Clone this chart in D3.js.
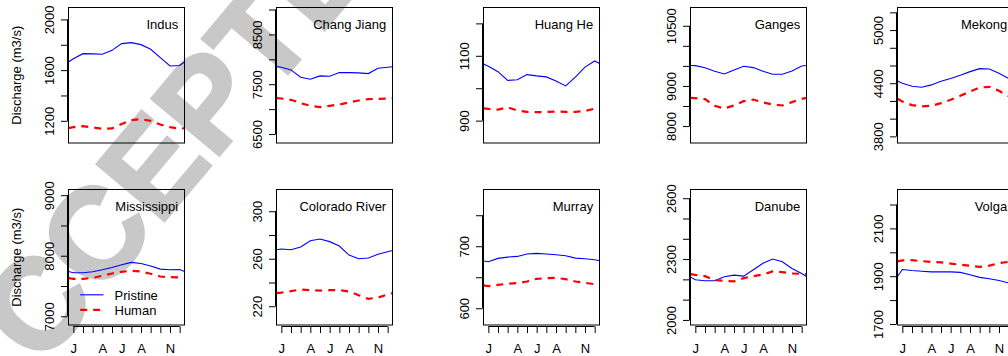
<!DOCTYPE html>
<html>
<head>
<meta charset="utf-8">
<script src="https://cdn.jsdelivr.net/npm/d3@7"></script>
<style>
  html, body { margin: 0; padding: 0; background: #fff; }
  svg { display: block; font-family: "Liberation Sans", Arial, sans-serif; }
</style>
</head>
<body>
<svg id="chart" width="1008" height="356"></svg>
<script>
// --- Data --------------------------------------------------------------
// monthly climatology, padded at both ends (x = 0.5 and 12.5) as in the figure
const monthX = [0.5, 1, 2, 3, 4, 5, 6, 7, 8, 9, 10, 11, 12, 12.5];
const monthTicks = [1, 2, 3, 4, 5, 6, 7, 8, 9, 10, 11, 12];
const monthLabels = ['J', '', '', 'A', '', 'J', '', 'A', '', '', 'N', ''];

const rivers = ['Indus', 'Chang Jiang', 'Huang He', 'Ganges', 'Mekong',
  'Mississippi', 'Colorado River', 'Murray', 'Danube', 'Volga'];

const pristine = [
  [1664, 1690, 1730, 1728, 1725, 1756, 1809, 1817, 1801, 1764, 1699, 1633, 1636, 1664],
  [7853, 7840, 7787, 7640, 7600, 7667, 7660, 7733, 7733, 7727, 7713, 7820, 7840, 7850],
  [1075, 1068, 1051, 1024, 1026, 1042, 1038, 1035, 1022, 1007, 1034, 1065, 1084, 1076],
  [9510, 9507, 9452, 9366, 9300, 9399, 9490, 9457, 9366, 9291, 9291, 9374, 9498, 9510],
  [4426, 4400, 4366, 4355, 4381, 4423, 4453, 4490, 4531, 4565, 4561, 4513, 4452, 4426],
  [7740, 7718, 7718, 7735, 7768, 7807, 7851, 7890, 7873, 7829, 7779, 7768, 7773, 7740],
  [267.6, 268.2, 267.6, 269.9, 275.2, 276.6, 274.4, 270.7, 263.1, 260.0, 260.6, 263.7, 265.9, 267.0],
  [676.1, 675.0, 680.4, 682.5, 683.6, 687.4, 688.5, 687.4, 686.3, 684.7, 680.9, 679.8, 678.2, 676.6],
  [2211, 2198, 2193, 2193, 2213, 2221, 2216, 2247, 2279, 2300, 2287, 2254, 2229, 2214],
  [1899, 1928, 1924, 1921, 1918, 1918, 1918, 1916, 1906, 1895, 1889, 1882, 1872, 1900],
];

const human = [
  [1142, 1150, 1158, 1148, 1137, 1140, 1174, 1206, 1213, 1200, 1171, 1150, 1137, 1142],
  [7220, 7213, 7187, 7120, 7067, 7040, 7067, 7093, 7133, 7173, 7200, 7207, 7213, 7220],
  [938, 936, 934, 941, 931, 927, 926, 927, 928, 927, 927, 930, 937, 938],
  [8704, 8695, 8671, 8505, 8439, 8513, 8621, 8662, 8588, 8538, 8513, 8596, 8679, 8704],
  [4224, 4194, 4153, 4138, 4145, 4175, 4213, 4258, 4306, 4351, 4359, 4314, 4254, 4224],
  [7630, 7619, 7619, 7635, 7669, 7707, 7735, 7751, 7740, 7702, 7657, 7646, 7641, 7630],
  [231.0, 231.5, 232.7, 234.1, 233.5, 233.2, 233.5, 233.5, 232.4, 229.3, 226.2, 227.3, 229.9, 231.0],
  [637.0, 635.6, 637.8, 639.4, 640.5, 643.2, 647.5, 648.5, 649.1, 646.9, 643.2, 641.0, 638.8, 637.0],
  [2226, 2222, 2216, 2196, 2193, 2190, 2206, 2216, 2224, 2239, 2236, 2229, 2227, 2226],
  [1962, 1966, 1967, 1963, 1960, 1958, 1953, 1948, 1944, 1939, 1944, 1955, 1960, 1962],
];

// y-axis limits of each panel
const yLimits = [
  [1025, 2094], [6320, 9040], [831, 1249], [7578, 10955], [3725, 5255],
  [6856, 9094], [204.2, 318.3], [573, 791.5], [1975, 2643], [1695.8, 2262.8],
];

const yTicks = [
  [1200, 1400, 1600, 1800, 2000],
  [6500, 7000, 7500, 8000, 8500, 9000],
  [900, 1000, 1100, 1200],
  [8000, 8500, 9000, 9500, 10000, 10500],
  [3800, 4000, 4200, 4400, 4600, 4800, 5000, 5200],
  [7000, 7500, 8000, 8500, 9000],
  [220, 240, 260, 280, 300],
  [600, 650, 700, 750],
  [2000, 2100, 2200, 2300, 2400, 2500, 2600],
  [1700, 1800, 1900, 2000, 2100, 2200],
];

// only some ticks carry a label (R drops the overlapping ones)
const yTickLabels = [
  [1200, 1600, 2000],
  [6500, 7500, 8500],
  [900, 1100],
  [8000, 9000, 10500],
  [3800, 4400, 5000],
  [7000, 8000, 9000],
  [220, 260, 300],
  [600, 700],
  [2000, 2300, 2600],
  [1700, 1900, 2100],
];

const legendItems = ['Pristine', 'Human'];

// --- Layout ------------------------------------------------------------
const svg = d3.select('#chart');
const boxW = 116, boxH = 135.5;
const colLeft = i => 68.3 + i * 207.25;
const rowTop = [7.3, 188.7];
const BLUE = '#0000ff', RED = '#ff0000';

// watermark, behind everything
svg.append('text')
  .attr('transform', 'translate(207,170) rotate(-50)')
  .attr('text-anchor', 'middle')
  .style('font-size', '128px')
  .style('font-weight', 'bold')
  .attr('fill', '#c8c8c8')
  .attr('stroke', '#c8c8c8')
  .attr('stroke-width', 3)
  .text('ACCEPTED');

rivers.forEach((name, i) => {
  const row = Math.floor(i / 5), col = i % 5;
  const left = Math.round(colLeft(col)) + 0.5;
  const top = Math.round(rowTop[row]) + 0.5;

  const x = d3.scaleLinear().domain([0.5, 12.5]).range([left, left + boxW]);
  const y = d3.scaleLinear().domain(yLimits[i]).range([top + boxH, top]);

  const g = svg.append('g');

  const line = d3.line()
    .x((d, k) => x(monthX[k]))
    .y(d => y(d));

  g.append('path')
    .attr('d', line(pristine[i]))
    .attr('fill', 'none')
    .attr('stroke', BLUE)
    .attr('stroke-width', 1.1);

  g.append('path')
    .attr('d', line(human[i]))
    .attr('fill', 'none')
    .attr('stroke', RED)
    .attr('stroke-width', 2.2)
    .attr('stroke-dasharray', '7,6');

  // box
  g.append('rect')
    .attr('x', left).attr('y', top)
    .attr('width', boxW).attr('height', boxH)
    .attr('fill', 'none')
    .attr('stroke', '#000')
    .attr('stroke-width', 1);

  // y axis
  const yAxis = d3.axisLeft(y)
    .tickValues(yTicks[i])
    .tickSize(6.5)
    .tickPadding(0)
    .tickFormat(d => yTickLabels[i].includes(d) ? d : '');
  const ya = g.append('g')
    .attr('transform', `translate(${left - 1},0)`)
    .call(yAxis);
  ya.select('.domain')
    .attr('d', `M0,${y(yTicks[i][0])}V${y(yTicks[i][yTicks[i].length - 1])}`)
    .attr('stroke', '#000');
  ya.selectAll('.tick line').attr('stroke', '#000');
  ya.selectAll('.tick text')
    .attr('x', null).attr('dy', null)
    .attr('text-anchor', 'middle')
    .attr('fill', '#000')
    .style('font-size', '13px')
    .attr('transform', 'translate(-14,0) rotate(-90)');

  if (col === 0) {
    g.append('text')
      .attr('transform', `translate(20.6,${top + boxH / 2}) rotate(-90)`)
      .attr('text-anchor', 'middle')
      .style('font-size', '13px')
      .attr('fill', '#000')
      .text('Discharge (m3/s)');
  }

  // x axis only on the bottom row
  if (row === 1) {
    const xAxis = d3.axisBottom(x)
      .tickValues(monthTicks)
      .tickSize(6.5)
      .tickPadding(0)
      .tickFormat((d, k) => monthLabels[k]);
    const xa = g.append('g')
      .attr('transform', `translate(0,${top + boxH + 1.5})`)
      .call(xAxis);
    xa.select('.domain')
      .attr('d', `M${x(1)},0H${x(12)}`)
      .attr('stroke', '#000');
    xa.selectAll('.tick line').attr('stroke', '#000');
    xa.selectAll('.tick text')
      .attr('dy', null)
      .attr('y', 26.5)
      .attr('fill', '#000')
      .style('font-size', '13px');
  }

  // panel title
  g.append('text')
    .attr('x', left + boxW - 6.3)
    .attr('y', top + 21)
    .attr('text-anchor', 'end')
    .style('font-size', '13px')
    .attr('fill', '#000')
    .text(name);

  // legend in the first panel of the bottom row
  if (i === 5) {
    legendItems.forEach((lab, k) => {
      const ly = top + 105.3 + k * 15;
      g.append('line')
        .attr('x1', left + 11.7).attr('x2', left + 35)
        .attr('y1', ly).attr('y2', ly)
        .attr('stroke', k === 0 ? BLUE : RED)
        .attr('stroke-width', k === 0 ? 1.1 : 2.2)
        .attr('stroke-dasharray', k === 0 ? null : '7,6');
      g.append('text')
        .attr('x', left + 46)
        .attr('y', ly + 5)
        .style('font-size', '13px')
        .attr('fill', '#000')
        .text(lab);
    });
  }
});
</script>
</body>
</html>
